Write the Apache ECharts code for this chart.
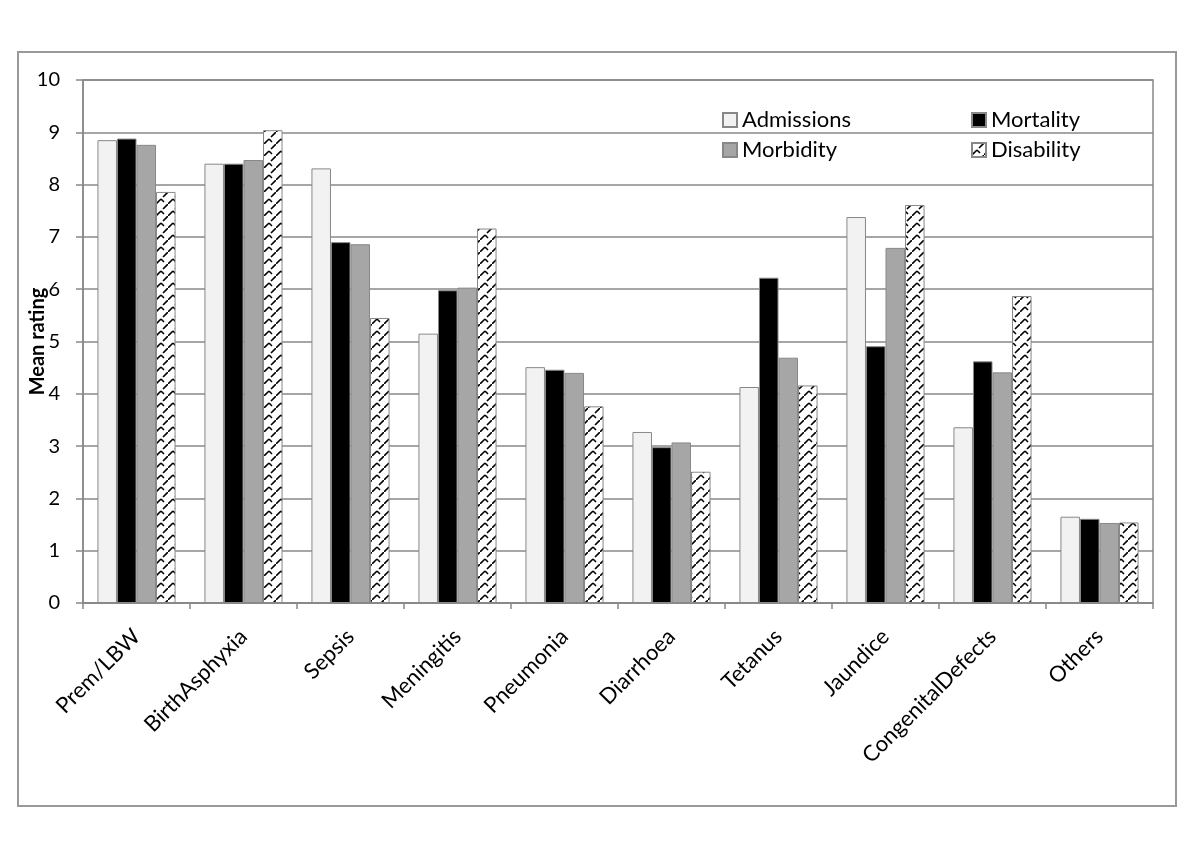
<!DOCTYPE html>
<html><head><meta charset="utf-8">
<script src="https://cdn.jsdelivr.net/npm/echarts@6/dist/echarts.min.js"></script>
<style>html,body{margin:0;padding:0;background:#fff}#c{width:1200px;height:847px}</style>
</head><body><div id="c"></div>
<script>
var categories = ["Prem/LBW","BirthAsphyxia","Sepsis","Meningitis","Pneumonia","Diarrhoea","Tetanus","Jaundice","CongenitalDefects","Others"];
var admissions = [8.85, 8.40, 8.31, 5.15, 4.51, 3.27, 4.13, 7.38, 3.36, 1.65];
var mortality  = [8.88, 8.40, 6.90, 5.98, 4.46, 2.98, 6.22, 4.91, 4.62, 1.61];
var morbidity  = [8.76, 8.47, 6.86, 6.03, 4.40, 3.07, 4.69, 6.79, 4.41, 1.53];
var disability = [7.86, 9.04, 5.45, 7.16, 3.76, 2.51, 4.16, 7.61, 5.87, 1.54];
var yTicks = [0,1,2,3,4,5,6,7,8,9,10];

function makePattern(){
  var c = document.createElement('canvas');
  c.width = 12; c.height = 12;
  var g = c.getContext('2d');
  g.fillStyle = '#fff'; g.fillRect(0,0,12,12);
  g.strokeStyle = '#000'; g.lineWidth = 1.6;
  g.beginPath();
  g.moveTo(0,12); g.lineTo(5,7);
  g.moveTo(7,5); g.lineTo(12,0);
  g.moveTo(5,7); g.lineTo(8,10);
  g.stroke();
  return c;
}
var FONT = 'Lato';
var chart = echarts.init(document.getElementById('c'), null, {renderer:'canvas'});
var border = {borderColor:'#888', borderWidth:1};
var option = {
  animation:false,
  backgroundColor:'#fff',
  textStyle:{fontFamily:FONT},
  graphic:[{type:'rect', shape:{x:18,y:52,width:1158,height:754}, style:{fill:'none', stroke:'#999', lineWidth:2}, z:-1}],
  grid:{left:83, top:80, right:47, bottom:244, show:true, borderColor:'#888', borderWidth:1.5},
  legend:[
    {data:['Admissions','Morbidity'], orient:'vertical', left:717, top:104, itemWidth:14, itemHeight:14, itemGap:8,
     textStyle:{fontSize:22, fontFamily:FONT, color:'#000', lineHeight:22}, icon:'rect'},
    {data:['Mortality','Disability'], orient:'vertical', left:966, top:104, itemWidth:14, itemHeight:14, itemGap:8,
     textStyle:{fontSize:22, fontFamily:FONT, color:'#000', lineHeight:22}, icon:'rect'}
  ],
  xAxis:{type:'category', data:categories,
    axisLine:{lineStyle:{color:'#888', width:1.5}},
    axisTick:{show:true, length:6, lineStyle:{color:'#888', width:1.5}},
    axisLabel:{rotate:45, fontSize:22, color:'#000', margin:30, interval:0, fontFamily:FONT}},
  yAxis:{type:'value', min:0, max:10, interval:1,
    name:'Mean rating', nameLocation:'middle', nameGap:35, nameMoveOverlap:false,
    nameTextStyle:{fontSize:20, fontWeight:'bold', color:'#000', fontFamily:FONT},
    axisLine:{show:true, lineStyle:{color:'#888', width:1.5}},
    axisTick:{show:true, length:7, lineStyle:{color:'#888', width:1.5}},
    axisLabel:{fontSize:20, color:'#000', margin:23, fontFamily:FONT,
      formatter:function(v){return yTicks.indexOf(v)>=0 ? String(v) : '';}},
    splitLine:{lineStyle:{color:'#888', width:1.5}}},
  series:[
    {name:'Admissions', type:'bar', data:admissions, barGap:'0%', barCategoryGap:'27%', itemStyle:Object.assign({color:'#f2f2f2'},border)},
    {name:'Mortality', type:'bar', data:mortality, itemStyle:Object.assign({color:'#000'},border)},
    {name:'Morbidity', type:'bar', data:morbidity, itemStyle:Object.assign({color:'#a6a6a6'},border)},
    {name:'Disability', type:'bar', data:disability, itemStyle:Object.assign({color:{image:makePattern(), repeat:'repeat'}},border)}
  ]
};
chart.setOption(option);
</script></body></html>
